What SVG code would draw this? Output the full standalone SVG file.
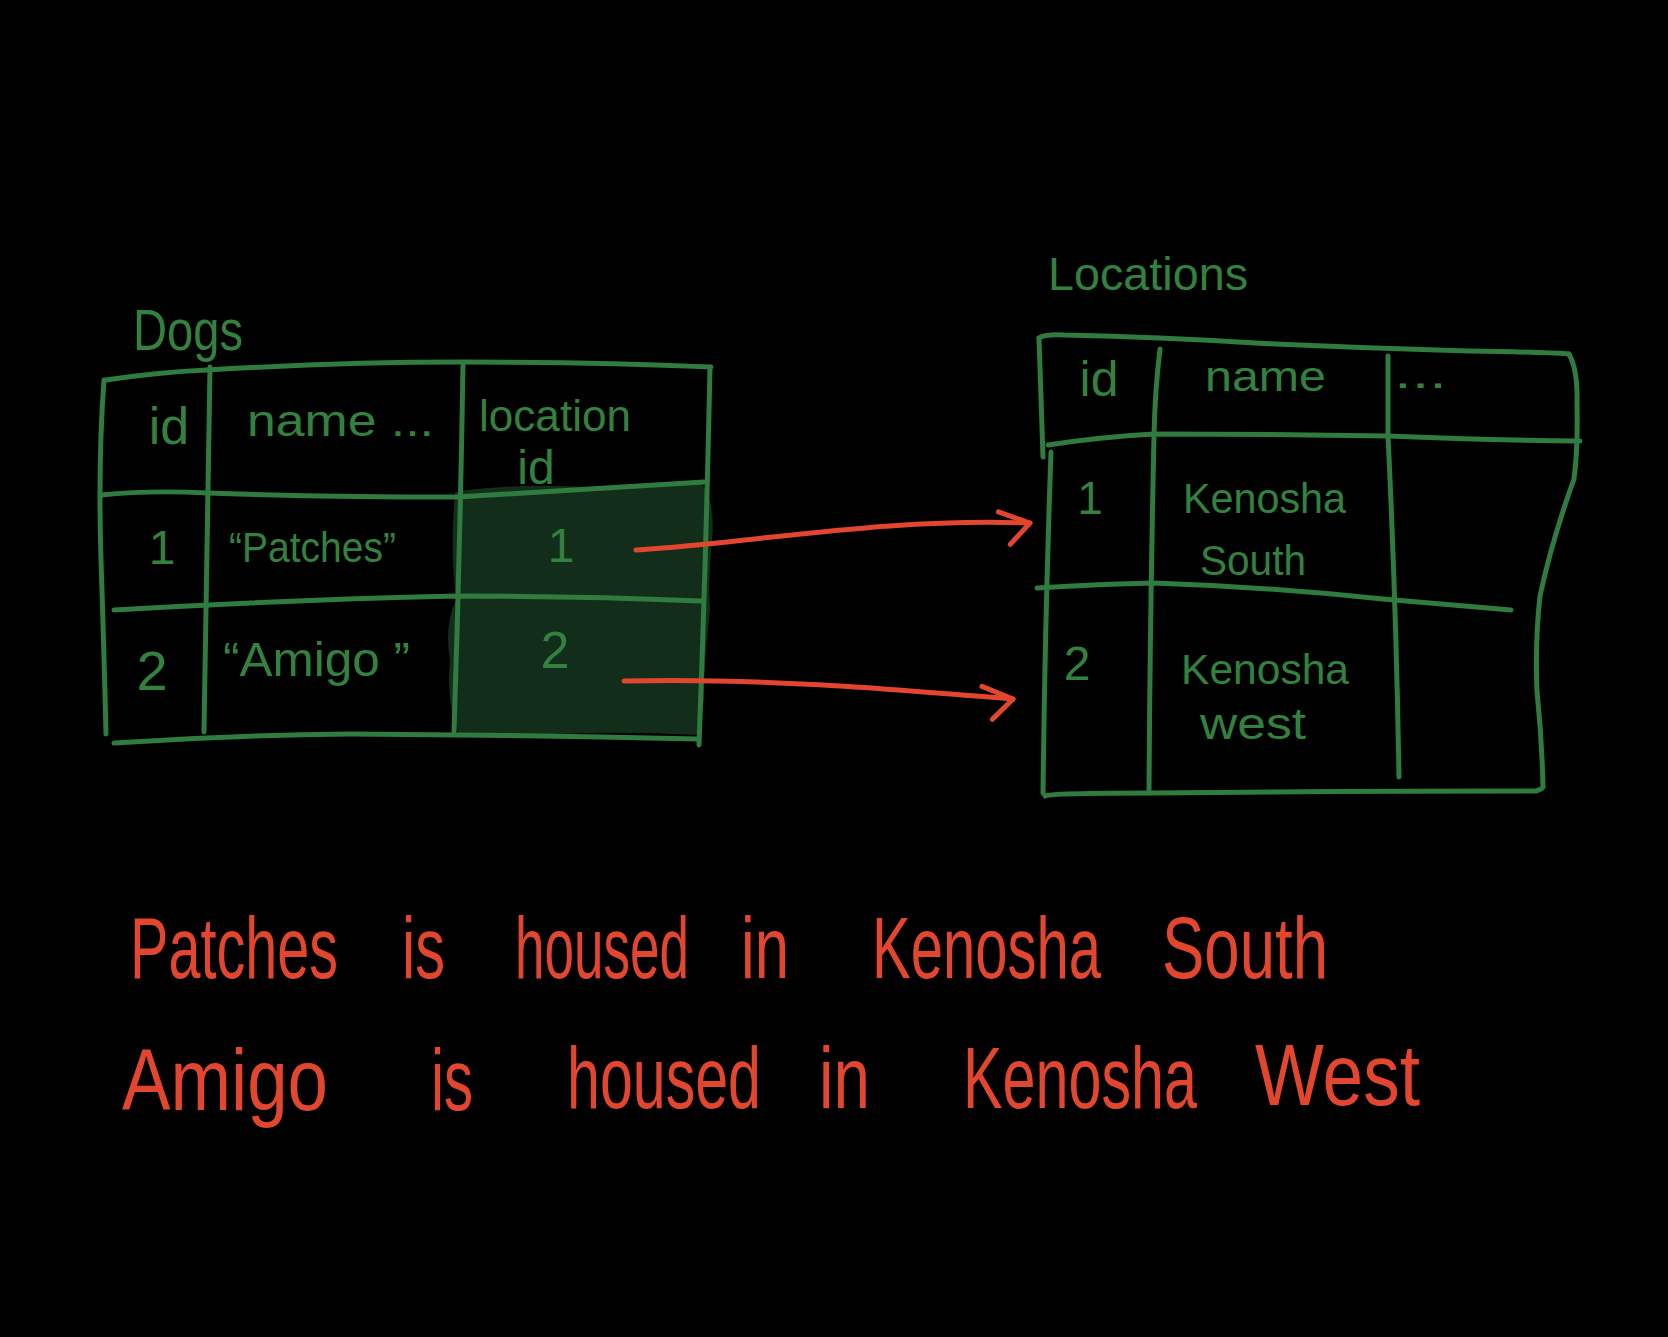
<svg xmlns="http://www.w3.org/2000/svg" width="1668" height="1337" viewBox="0 0 1668 1337">
<defs>
<style>
.ln{fill:none;stroke:#2f7b40;stroke-width:5;stroke-linecap:round;stroke-linejoin:round}
.gt{fill:#33813f;font-family:"Liberation Sans","DejaVu Sans",sans-serif}
.rt{fill:#e2462f;font-family:"Liberation Sans","DejaVu Sans",sans-serif;font-size:58px}
.ar{fill:none;stroke:#e2462f;stroke-width:5;stroke-linecap:round;stroke-linejoin:round}
</style>
<marker id="chev" markerUnits="userSpaceOnUse" markerWidth="60" markerHeight="60" refX="0" refY="0" viewBox="-40 -30 50 60" orient="auto" overflow="visible">
<path d="M -32 -10 L 0 0 L -19 22" fill="none" stroke="#e2462f" stroke-width="5" stroke-linecap="round" stroke-linejoin="round"/>
</marker>
</defs>
<rect x="0" y="0" width="1668" height="1337" fill="#000"/>

<g id="dogs">
<text class="gt" x="133" y="350" font-size="58" textLength="110" lengthAdjust="spacingAndGlyphs">Dogs</text>
<path d="M 455 492 Q 520 482 600 488 L 700 482 Q 716 500 712 540 Q 708 580 710 610 Q 704 660 704 700 L 698 735 Q 600 730 520 736 L 458 733 Q 446 700 450 660 Q 444 625 456 600 Q 450 550 455 492 Z" fill="#122e1b"/>
<path class="ln" d="M 106 380 Q 160 372 207 370 Q 340 362 463 362 Q 600 362 711 367"/>
<path class="ln" d="M 104 380 Q 98 460 101 560 Q 104 650 106 734"/>
<path class="ln" d="M 210 367 Q 207 550 204 732"/>
<path class="ln" d="M 463 365 Q 460 550 454 732"/>
<path class="ln" d="M 710 367 Q 706 560 699 745"/>
<path class="ln" d="M 101 495 Q 150 490 207 493 Q 330 497 457 497 Q 580 490 704 482"/>
<path class="ln" d="M 114 610 Q 280 600 457 596 Q 580 596 702 601"/>
<path class="ln" d="M 114 743 Q 230 735 351 734 Q 520 735 697 739"/>
<text class="gt" x="169" y="444" font-size="52" text-anchor="middle">id</text>
<text class="gt" x="247" y="436" font-size="44" textLength="187" lengthAdjust="spacingAndGlyphs">name   ...</text>
<text class="gt" x="479" y="431" font-size="44" textLength="152" lengthAdjust="spacingAndGlyphs">location</text>
<text class="gt" x="536" y="484" font-size="48" text-anchor="middle">id</text>
<text class="gt" x="162" y="564" font-size="48" text-anchor="middle">1</text>
<text class="gt" x="229" y="562" font-size="42" textLength="167" lengthAdjust="spacingAndGlyphs">“Patches”</text>
<text class="gt" x="561" y="562" font-size="48" text-anchor="middle">1</text>
<text class="gt" x="152" y="690" font-size="56" text-anchor="middle">2</text>
<text class="gt" x="223" y="676" font-size="48" textLength="187" lengthAdjust="spacingAndGlyphs">“Amigo ”</text>
<text class="gt" x="555" y="668" font-size="52" text-anchor="middle">2</text>
</g>

<g id="locations">
<text class="gt" x="1048" y="290" font-size="46" textLength="200" lengthAdjust="spacingAndGlyphs">Locations</text>
<path class="ln" d="M 1039 338 Q 1045 334 1064 335 Q 1160 337 1255 343 Q 1360 348 1468 351 Q 1540 352 1569 354"/>
<path class="ln" d="M 1039 338 L 1043 457"/>
<path class="ln" d="M 1051 452 Q 1045 620 1043 793"/>
<path class="ln" d="M 1160 349 Q 1155 390 1154 436 Q 1150 620 1149 793"/>
<path class="ln" d="M 1388 356 L 1388 436 Q 1396 600 1399 777"/>
<path class="ln" d="M 1569 354 Q 1578 370 1577 404 Q 1578 450 1574 479 Q 1552 540 1540 596 Q 1535 640 1537 691 Q 1542 740 1543 787"/>
<path class="ln" d="M 1048 445 Q 1100 437 1154 434 Q 1270 434 1388 436 Q 1480 440 1580 441"/>
<path class="ln" d="M 1037 588 Q 1100 584 1154 583 Q 1270 587 1383 599 Q 1450 605 1511 610"/>
<path class="ln" d="M 1045 796 Q 1050 793 1154 793 Q 1350 791 1536 791 Q 1543 789 1543 787"/>
<text class="gt" x="1099" y="396" font-size="50" text-anchor="middle">id</text>
<text class="gt" x="1205" y="391" font-size="42" textLength="121" lengthAdjust="spacingAndGlyphs">name</text>
<text class="gt" x="1394" y="388" font-size="42" textLength="53" lengthAdjust="spacingAndGlyphs">...</text>
<text class="gt" x="1090" y="514" font-size="46" text-anchor="middle">1</text>
<text class="gt" x="1183" y="513" font-size="42" textLength="163" lengthAdjust="spacingAndGlyphs">Kenosha</text>
<text class="gt" x="1200" y="575" font-size="42" textLength="106" lengthAdjust="spacingAndGlyphs">South</text>
<text class="gt" x="1077" y="680" font-size="48" text-anchor="middle">2</text>
<text class="gt" x="1181" y="684" font-size="42" textLength="168" lengthAdjust="spacingAndGlyphs">Kenosha</text>
<text class="gt" x="1200" y="739" font-size="44" textLength="106" lengthAdjust="spacingAndGlyphs">west</text>
</g>

<g id="connectors">
<path class="ar" d="M 636 550 C 760 542 880 518 1030 523" marker-end="url(#chev)"/>
<path class="ar" d="M 624 681 C 760 678 880 688 1013 699" marker-end="url(#chev)"/>
</g>

<g id="sentence-1" transform="translate(0,978) scale(1,1.5)">
<text class="rt" x="130" y="0" textLength="208" lengthAdjust="spacingAndGlyphs">Patches</text>
<text class="rt" x="402" y="0" textLength="43" lengthAdjust="spacingAndGlyphs">is</text>
<text class="rt" x="515" y="0" textLength="174" lengthAdjust="spacingAndGlyphs">housed</text>
<text class="rt" x="741" y="0" textLength="48" lengthAdjust="spacingAndGlyphs">in</text>
<text class="rt" x="872" y="0" textLength="229" lengthAdjust="spacingAndGlyphs">Kenosha</text>
<text class="rt" x="1162" y="0" textLength="166" lengthAdjust="spacingAndGlyphs">South</text>
</g>
<g id="sentence-2" transform="translate(0,1108) scale(1,1.5)">
<text class="rt" x="122" y="1" textLength="206" lengthAdjust="spacingAndGlyphs">Amigo</text>
<text class="rt" x="431" y="1" textLength="42" lengthAdjust="spacingAndGlyphs">is</text>
<text class="rt" x="567" y="0" textLength="194" lengthAdjust="spacingAndGlyphs">housed</text>
<text class="rt" x="819" y="0" textLength="51" lengthAdjust="spacingAndGlyphs">in</text>
<text class="rt" x="963" y="0" textLength="234" lengthAdjust="spacingAndGlyphs">Kenosha</text>
<text class="rt" x="1255" y="-2" textLength="165" lengthAdjust="spacingAndGlyphs">West</text>
</g>
</svg>
